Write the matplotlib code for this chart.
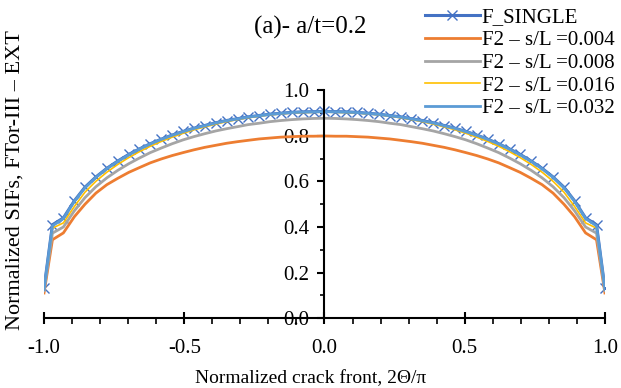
import numpy as np
import matplotlib
matplotlib.use('Agg')
import matplotlib.pyplot as plt
from matplotlib.ticker import MultipleLocator

plt.rcParams['font.family'] = ['Liberation Serif', 'DejaVu Serif']

# crack front positions, 2*theta/pi
x_pos = [0.0, 0.039, 0.078, 0.116, 0.155, 0.194, 0.233, 0.272, 0.310, 0.349,
         0.388, 0.427, 0.466, 0.504, 0.543, 0.582, 0.621, 0.660, 0.698, 0.737,
         0.776, 0.815, 0.854, 0.892, 0.931, 0.970, 1.0]
x = [-v for v in x_pos[:0:-1]] + x_pos

# normalized SIFs (left half mirrors right half)
f_single_r = [0.908, 0.907, 0.906, 0.904, 0.900, 0.896, 0.890, 0.884, 0.876, 0.868,
              0.858, 0.846, 0.834, 0.820, 0.804, 0.786, 0.766, 0.743, 0.719, 0.690,
              0.658, 0.620, 0.575, 0.515, 0.440, 0.410, 0.130]
f2_004_r = [0.800, 0.799, 0.799, 0.797, 0.795, 0.791, 0.787, 0.781, 0.775, 0.768,
            0.759, 0.750, 0.739, 0.727, 0.714, 0.699, 0.682, 0.661, 0.640, 0.614,
            0.586, 0.549, 0.500, 0.445, 0.374, 0.344, 0.110]
f2_008_r = [0.878, 0.877, 0.875, 0.872, 0.868, 0.863, 0.856, 0.850, 0.841, 0.832,
            0.822, 0.810, 0.797, 0.783, 0.766, 0.747, 0.727, 0.703, 0.678, 0.649,
            0.616, 0.577, 0.529, 0.471, 0.400, 0.373, 0.120]
f2_016_r = [0.905, 0.904, 0.903, 0.901, 0.897, 0.893, 0.887, 0.880, 0.872, 0.863,
            0.852, 0.840, 0.827, 0.812, 0.795, 0.776, 0.755, 0.731, 0.705, 0.675,
            0.641, 0.601, 0.553, 0.490, 0.418, 0.395, 0.125]
f2_032_r = [0.907, 0.906, 0.905, 0.903, 0.899, 0.895, 0.889, 0.883, 0.875, 0.867,
            0.857, 0.845, 0.833, 0.819, 0.803, 0.785, 0.765, 0.742, 0.717, 0.688,
            0.656, 0.618, 0.572, 0.512, 0.437, 0.405, 0.125]

def full(r):
    return r[:0:-1] + r

series = [
    ('F_SINGLE', full(f_single_r), '#4472C4', 2.2),
    ('F2 \u2013 s/L =0.004', full(f2_004_r), '#ED7D31', 2.0),
    ('F2 \u2013 s/L =0.008', full(f2_008_r), '#A5A5A5', 2.0),
    ('F2 \u2013 s/L =0.016', full(f2_016_r), '#FFC000', 1.2),
    ('F2 \u2013 s/L =0.032', full(f2_032_r), '#5B9BD5', 2.0),
]

fig = plt.figure(figsize=(6.21, 3.88), dpi=100)
ax = fig.add_axes([0.0709, 0.1804, 0.9032, 0.5864])

for i, (name, y, c, lw) in enumerate(series):
    if i == 0:
        ax.plot(x, y, color=c, lw=lw, marker='x', ms=7, mew=1.0, label=name)
    else:
        ax.plot(x, y, color=c, lw=lw, label=name)

ax.set_xlim(-1, 1)
ax.set_ylim(0, 1.0)
ax.spines['left'].set_position(('data', 0))
ax.spines['right'].set_visible(False)
ax.spines['top'].set_visible(False)
for s in ('left', 'bottom'):
    ax.spines[s].set_linewidth(1.5)

ax.xaxis.set_major_locator(MultipleLocator(0.5))
ax.xaxis.set_minor_locator(MultipleLocator(0.1))
ax.yaxis.set_major_locator(MultipleLocator(0.2))
ax.yaxis.set_minor_locator(MultipleLocator(0.1))
ax.xaxis.set_major_formatter(matplotlib.ticker.FormatStrFormatter('%.1f'))
ax.yaxis.set_major_formatter(matplotlib.ticker.FormatStrFormatter('%.1f'))
ax.tick_params(axis='x', which='major', direction='inout', length=8, width=1.5,
               labelsize=15, pad=11)
ax.tick_params(axis='x', which='minor', direction='out', length=4, width=1.2)
ax.tick_params(axis='y', which='major', direction='out', length=5, width=1.5,
               labelsize=15, pad=6)
ax.tick_params(axis='y', which='minor', direction='out', length=3, width=1.2)

fig.text(0.5, 0.93, '(a)- a/t=0.2', ha='center', va='center', fontsize=18)
fig.text(0.5, 0.003, 'Normalized crack front, 2\u0398/\u03c0', ha='center',
         va='bottom', fontsize=14)
fig.text(0.024, 0.537, 'Normalized SIFs, FTor-III \u2013 EXT', rotation=90,
         ha='center', va='center', fontsize=16)

ax.legend(loc='upper left', bbox_to_anchor=(0.665, 1.40), frameon=False,
          fontsize=15, handlelength=2.6, handletextpad=0.1, labelspacing=0.15,
          borderaxespad=0)

fig.savefig('out.png', dpi=100)
